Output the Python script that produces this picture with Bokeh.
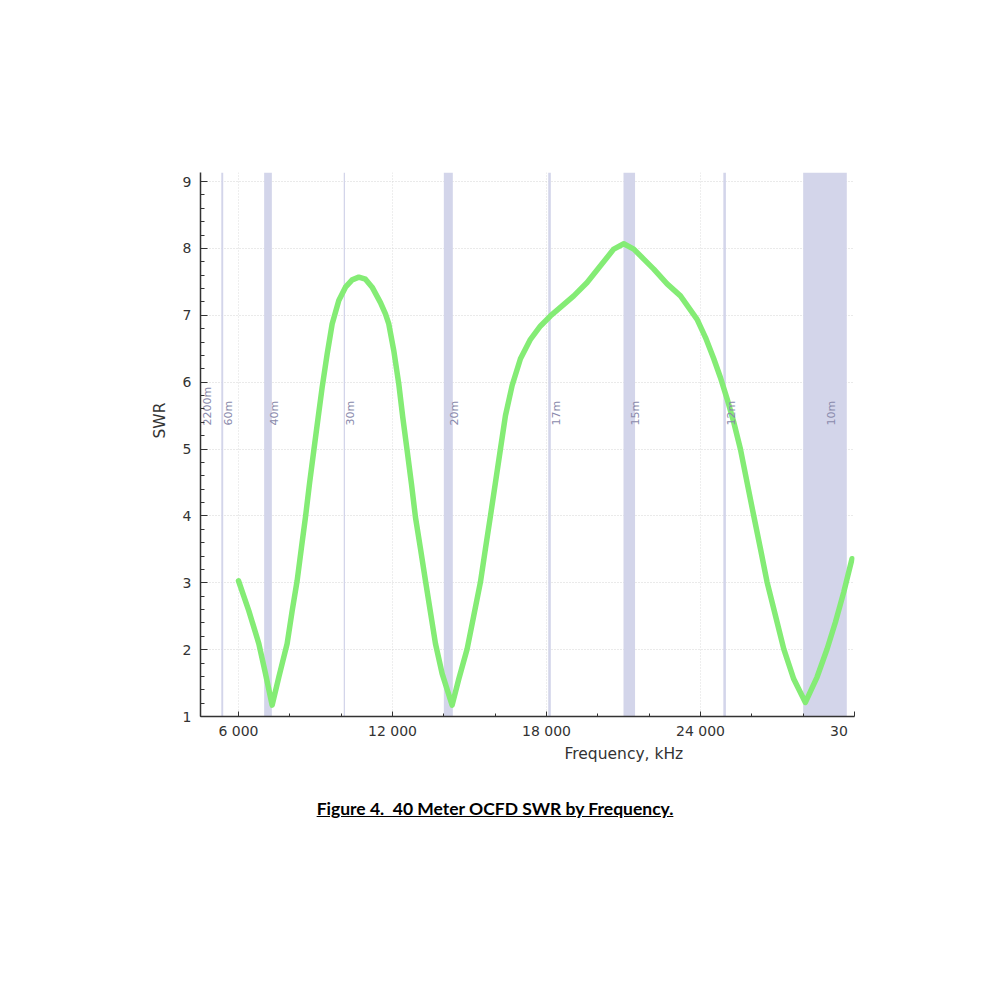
import math
from bokeh.plotting import figure
from bokeh.models import FixedTicker, Range1d, ColumnDataSource, Div, Title
from bokeh.layouts import column
from bokeh.core.properties import value
from bokeh.embed import file_html
from bokeh.resources import INLINE

# ---------------- data ----------------
freq_khz = [6000, 6403, 6792, 7052, 7311, 7571, 7896, 8091, 8285, 8454, 8610, 8766,
            8935, 9103, 9259, 9454, 9649, 9908, 10168, 10428, 10688, 10947, 11207,
            11532, 11726, 11856, 12051, 12246, 12402, 12570, 12739, 12895, 13090,
            13285, 13479, 13674, 13934, 14323, 14583, 14908, 15168, 15427, 15622,
            15817, 16012, 16206, 16401, 16661, 16985, 17375, 17765, 18154, 18609,
            19063, 19582, 20102, 20621, 21011, 21400, 21790, 22180, 22699, 23219,
            23867, 24192, 24517, 24776, 25036, 25296, 25555, 25815, 26075, 26335,
            26594, 26919, 27243, 27633, 28087, 28542, 28932, 29256, 29581, 29905]
swr = [3.03, 2.58, 2.09, 1.64, 1.17, 1.59, 2.09, 2.58, 3.03, 3.53, 3.98, 4.48,
       4.98, 5.47, 5.92, 6.42, 6.87, 7.22, 7.42, 7.53, 7.57, 7.54, 7.42,
       7.19, 7.02, 6.87, 6.47, 5.97, 5.47, 4.98, 4.48, 3.98, 3.51,
       3.03, 2.56, 2.09, 1.64, 1.17, 1.56, 2.01, 2.51, 3.01, 3.51,
       4.00, 4.50, 5.00, 5.50, 5.95, 6.35, 6.64, 6.84, 6.99, 7.14,
       7.29, 7.49, 7.74, 7.99, 8.07, 7.99, 7.84, 7.69, 7.47, 7.29,
       6.94, 6.67, 6.35, 6.07, 5.75, 5.40, 5.00, 4.50, 4.00, 3.51,
       3.01, 2.51, 2.01, 1.56, 1.21, 1.59, 2.01, 2.41, 2.86, 3.36]

band_names = ["2200m", "60m", "40m", "30m", "20m", "17m", "15m", "12m", "10m"]
band_low = [135.7, 5330, 7000, 10100, 14000, 18068, 21000, 24890, 28000]
band_high = [137.8, 5405, 7300, 10150, 14350, 18168, 21450, 24990, 29700]

x_ticks = [6000, 12000, 18000, 24000, 30000]
# last label is clipped at the chart edge in the original ("30 000" -> "30")
x_tick_labels = ["6 000", "12 000", "18 000", "24 000", "30\u00a0\u2007\u2007\u2007"]
x_minor = [8000, 10000, 14000, 16000, 20000, 22000, 26000, 28000]
y_ticks = [1, 2, 3, 4, 5, 6, 7, 8, 9]

X0, X1 = 4520, 30000
Y0, Y1 = 1.0, 9.135

FONT = "DejaVu Sans"
TXT = "#333333"

p = figure(frame_width=654, frame_height=544,
           min_border_left=200, min_border_right=40, min_border_top=172, min_border_bottom=74,
           x_range=Range1d(X0, X1), y_range=Range1d(Y0, Y1),
           output_backend="svg", toolbar_location=None)
p.background_fill_color = "white"
p.border_fill_color = "white"
p.outline_line_color = None

# bands
bsrc = ColumnDataSource(dict(left=band_low, right=band_high,
                             bottom=[Y0] * len(band_low), top=[Y1] * len(band_low)))
p.quad(left="left", right="right", bottom="bottom", top="top", source=bsrc,
       fill_color="#d3d5ea", line_color=None)

# curve
p.line(freq_khz, swr, line_width=5.5, line_color="#84ec75", line_join="round", line_cap="round")

# band labels (on top of the curve)
lab_x = [max((lo + hi) / 2.0, X0) for lo, hi in zip(band_low, band_high)]
lsrc = ColumnDataSource(dict(x=lab_x, y=[5.35] * len(lab_x), text=band_names))
p.text(x="x", y="y", text="text", source=lsrc, angle=math.pi / 2,
       text_align="left", text_baseline="top", text_color="#8a8aac",
       text_font=value(FONT), text_font_size="11px")

# axes
xa = p.xaxis[0]
xa.ticker = FixedTicker(ticks=x_ticks, minor_ticks=x_minor)
xa.major_label_overrides = {t: l for t, l in zip(x_ticks, x_tick_labels)}
ya = p.yaxis[0]
ya.ticker = FixedTicker(ticks=y_ticks, minor_ticks=[round(1 + 0.2 * i, 1) for i in range(41)])
for ax in (xa, ya):
    ax.axis_line_color = "#333333"
    ax.axis_line_width = 1.5
    ax.major_tick_line_color = "#333333"
    ax.minor_tick_line_color = "#333333"
    ax.major_label_text_font = FONT
    ax.major_label_text_font_size = "14px"
    ax.major_label_text_color = TXT
    ax.major_tick_out = 0
    ax.minor_tick_out = 0
xa.major_tick_in = 5
xa.minor_tick_in = 3
ya.major_tick_in = 7
ya.minor_tick_in = 4
xa.major_label_standoff = 6
ya.major_label_standoff = 9

# grids
p.xgrid.grid_line_color = "#dcdcdc"
p.xgrid.grid_line_dash = "1 2"
p.ygrid.grid_line_color = "#d4d4d4"
p.ygrid.grid_line_dash = "1 2"

# axis titles
p.add_layout(Title(text="Frequency, kHz", align="left", offset=364, standoff=3,
                   text_font=FONT, text_font_size="15.5px", text_font_style="normal",
                   text_color=TXT), "below")
p.add_layout(Title(text="SWR", align="left", offset=278, standoff=22,
                   text_font=FONT, text_font_size="15.5px", text_font_style="normal",
                   text_color=TXT), "left")

cap = Div(text='<span style="font-family:Lato;font-weight:bold;font-size:17.5px;'
               'text-decoration:underline;color:#000;">Figure 4.&nbsp; 40 Meter OCFD SWR by Frequency.</span>',
          width=980, styles={"text-align": "center", "padding-top": "1px"})

layout = column(p, cap)
open("out.html", "w").write(file_html(layout, INLINE))
